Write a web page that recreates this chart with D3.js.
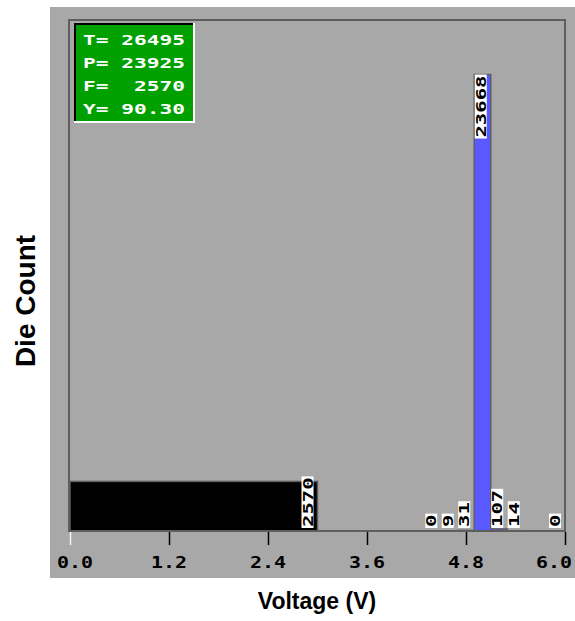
<!DOCTYPE html>
<html>
<head>
<meta charset="utf-8">
<script src="https://cdn.jsdelivr.net/npm/d3@7"></script>
<style>
  html, body { margin: 0; padding: 0; background: #ffffff; }
  svg { display: block; }
</style>
</head>
<body>
<svg id="chart" width="575" height="621"></svg>
<script>
// Histogram bins: start voltage of each 0.2 V bin and its die count
const binStarts = [2.8, 4.3, 4.5, 4.7, 4.9, 5.1, 5.3, 5.8];
const binCounts = [2570, 0, 9, 31, 23668, 107, 14, 0];
const binKinds  = ["fail", "pass", "pass", "pass", "pass", "pass", "pass", "pass"];
const binWidth = 0.2;

// Summary statistics
const statKeys   = ["T=", "P=", "F=", "Y="];
const statValues = ["26495", "23925", " 2570", "90.30"];

// Axis ticks
const xTicks = [0.0, 1.2, 2.4, 3.6, 4.8, 6.0];
const totalCount = 26495;

const svg = d3.select("#chart");
const W = 575, H = 621;
const plot = { left: 70, right: 565, top: 20, bottom: 531 };

const x = d3.scaleLinear().domain([0, 6]).range([plot.left, plot.right]);
const y = d3.scaleLinear().domain([0, totalCount]).range([plot.bottom, plot.top]);

const monoFont = "'DejaVu Sans Mono', 'Liberation Mono', monospace";

// Blocky monospace text: each character cell gets a fixed width
function blockText(sel, str, size, cell, color) {
  return sel.append("text")
    .attr("font-family", monoFont)
    .attr("font-weight", "bold")
    .attr("font-size", size)
    .attr("fill", color)
    .attr("xml:space", "preserve")
    .style("white-space", "pre")
    .attr("textLength", str.length * cell)
    .attr("lengthAdjust", "spacingAndGlyphs")
    .text(str);
}

// Panel background
svg.append("rect").attr("x", 0).attr("y", 0).attr("width", W).attr("height", H).attr("fill", "#ffffff");
svg.append("rect").attr("x", 50).attr("y", 7).attr("width", W - 50).attr("height", 571).attr("fill", "#a8a8a8");

// Bars
const bars = binStarts.map((s, i) => ({
  start: s, count: binCounts[i], kind: binKinds[i],
  x0: binKinds[i] === "fail" ? 0 : s, x1: s + binWidth
}));

svg.append("g").selectAll("rect").data(bars.filter(d => d.count > 0)).join("rect")
  .attr("x", d => x(d.x0))
  .attr("y", d => y(d.count))
  .attr("width", d => x(d.x1) - x(d.x0))
  .attr("height", d => y(0) - y(d.count))
  .attr("fill", d => d.kind === "fail" ? "#000000" : "#5959ff")
  .attr("stroke", "#5e5e5e")
  .attr("stroke-width", 1.5);

// Plot frame
svg.append("rect")
  .attr("x", plot.left - 1).attr("y", plot.top)
  .attr("width", plot.right - plot.left + 1).attr("height", plot.bottom - plot.top)
  .attr("fill", "none").attr("stroke", "#5e5e5e").attr("stroke-width", 2);

// Value labels, rotated, on white boxes
const labelCell = 12.4;
const labelG = svg.append("g");
bars.forEach(d => {
  const str = String(d.count);
  const len = str.length * labelCell + 2;
  const top = y(d.count);
  const bottom = Math.min(plot.bottom - 3, top + len);
  const boxTop = bottom - len;
  const bx = x(d.start) + 0.5;
  const bw = 12;
  labelG.append("rect")
    .attr("x", bx).attr("y", boxTop).attr("width", bw).attr("height", len)
    .attr("fill", "#ffffff");
  const g = labelG.append("g")
    .attr("transform", `translate(${bx + bw / 2 + 5},${bottom - 1}) rotate(-90)`);
  blockText(g, str, 14, labelCell, "#000000");
});

// X axis
const xAxis = d3.axisBottom(x).tickValues(xTicks).tickFormat(d3.format(".1f")).tickSize(13).tickPadding(10);
const axisG = svg.append("g").attr("transform", `translate(0,${plot.bottom + 1})`).call(xAxis);
axisG.select(".domain").remove();
axisG.selectAll(".tick line").attr("stroke", (d, i) => i === 0 ? "#f4f4f4" : "#000000").attr("stroke-width", 1.5);
axisG.selectAll(".tick text").remove();

// Tick labels, kept inside the panel at both ends
const tickCell = 12;
const fmt = d3.format(".1f");
xTicks.forEach((t, i) => {
  const str = fmt(t);
  const w = str.length * tickCell;
  let left = x(t) - w / 2;
  left = Math.max(57, Math.min(572 - w, left));
  blockText(svg.append("g").attr("transform", `translate(${left},568)`), str, 15, tickCell, "#000000");
});

// Axis titles
svg.append("text")
  .attr("x", 317).attr("y", 609)
  .attr("text-anchor", "middle")
  .attr("font-family", "Arial, 'Liberation Sans', sans-serif")
  .attr("font-weight", "bold").attr("font-size", 23)
  .attr("fill", "#000000")
  .text("Voltage (V)");

svg.append("text")
  .attr("transform", "translate(35,301) rotate(-90)")
  .attr("text-anchor", "middle")
  .attr("font-family", "Arial, 'Liberation Sans', sans-serif")
  .attr("font-weight", "bold").attr("font-size", 28)
  .attr("fill", "#000000")
  .text("Die Count");

// Statistics box with bevelled border
const box = { x: 74, y: 23, w: 121, h: 100 };
const statG = svg.append("g");
statG.append("rect").attr("x", box.x).attr("y", box.y).attr("width", box.w).attr("height", box.h).attr("fill", "#ffffff");
statG.append("rect").attr("x", box.x).attr("y", box.y).attr("width", box.w - 2).attr("height", box.h - 2).attr("fill", "#000000");
statG.append("rect").attr("x", box.x + 2).attr("y", box.y + 2).attr("width", box.w - 4).attr("height", box.h - 4).attr("fill", "#00a000");
statKeys.forEach((k, i) => {
  const str = k + " " + statValues[i];
  const g = statG.append("g").attr("transform", `translate(83,${45 + i * 23})`);
  blockText(g, str, 14, 12.75, "#ffffff");
});
</script>
</body>
</html>
